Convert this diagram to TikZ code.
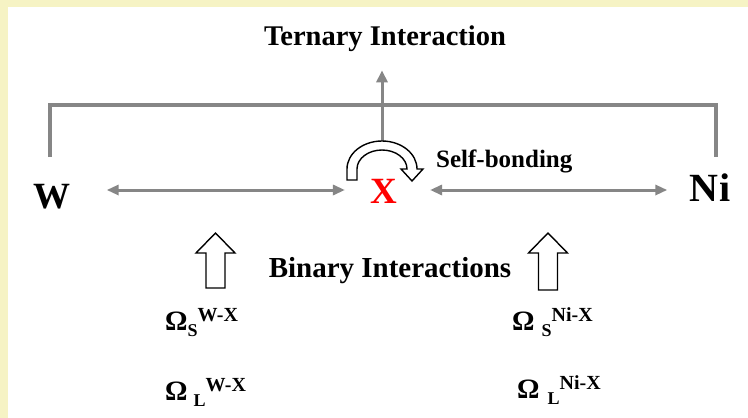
\documentclass[tikz,border=0pt]{standalone}
\usepackage{fontspec}
\setmainfont{Liberation Serif}
\usepackage{tikz}
\usetikzlibrary{arrows.meta}
\definecolor{bgyellow}{RGB}{246,243,196}
\definecolor{linegray}{RGB}{134,134,134}
\newcommand{\fsz}[1]{\fontsize{#1}{#1}\selectfont}
\newcommand{\omg}[3]{{\fsz{28}Ω}\hspace{#1}\raisebox{-6pt}{\fsz{18}#2}\raisebox{9pt}{\fsz{20}#3}}

\begin{document}
\begin{tikzpicture}[x=1pt,y=1pt,font=\bfseries,
  gline/.style={linegray,line width=3pt},
  biarrow/.style={gline,{Triangle[length=12pt,width=10pt]}-{Triangle[length=12pt,width=10pt]}},
  hollow/.style={draw=black,fill=white,line width=1.4pt,line join=miter},
  elem/.style n args={2}{inner sep=0pt,text height=#1,text depth=0pt,font=\bfseries\fsz{#2}},
  caption/.style={inner sep=0pt,anchor=base,font=\bfseries\fsz{#1}}]
\useasboundingbox (0,0) rectangle (748,-418);
\fill[bgyellow] (0,0) rectangle (748,-418);
\fill[white] (8,-7) rectangle (748,-418);

% elements
\node[elem={36pt}{37}] (W) at (52,-190) {W};
\node[elem={26pt}{37},red] (X) at (383.5,-190) {X};
\node[elem={22pt}{40}] (Ni) at (710,-190) {N\kern1pt i};

\node[caption=28.5] (tern) at (385,-45) {Ternary Interaction};
\node[caption=25,anchor=base west] (self) at (436,-167) {Self-bonding};
\node[caption=29] (binary) at (390,-277) {Binary Interactions};

\draw[biarrow,shorten <=36pt,shorten >=25pt] (W.east) -- (X.west);
\draw[biarrow,shorten <=33pt,shorten >=22pt] (X.east) -- (Ni.west);

% ternary bracket
\coordinate (wtop) at (50,-157);
\coordinate (nitop) at (716,-157);
\coordinate (selftop) at (382,-141);
\draw[linegray,line width=3.5pt] (wtop) -- ++(0,52) -| (nitop);
\draw[gline,-{Triangle[length=12pt,width=11pt]},shorten >=19pt] (selftop) -- (selftop |- tern.south);

% self-bonding arrow
\draw[hollow] (347,-180) -- (347,-169) arc[start angle=180,end angle=0,x radius=35,y radius=28]
   -- (423,-169) -- (412,-181) -- (401,-169) -- (407,-169)
   arc[start angle=0,end angle=180,x radius=25,y radius=19] -- (357,-180) -- cycle;

% binary arrows
\foreach \cx/\bot in {215.5/288,548/290} {
   \draw[hollow] (\cx-9.5,-\bot) -- (\cx-9.5,-253) -- (\cx-19.5,-253) -- (\cx,-233)
      -- (\cx+19.5,-253) -- (\cx+9.5,-253) -- (\cx+9.5,-\bot) -- cycle;
}

\node[inner sep=0pt,anchor=base west] (omsw) at (165,-330) {\omg{0pt}{S}{W-X}};
\node[inner sep=0pt,anchor=base west] (omlw) at (165,-400) {\omg{6pt}{L}{W-X}};
\node[inner sep=0pt,anchor=base west] (omsn) at (512,-330) {\omg{7pt}{S}{Ni-X}};
\node[inner sep=0pt,anchor=base west] (omln) at (517,-398) {\omg{8pt}{L}{Ni-X}};
\end{tikzpicture}
\end{document}
